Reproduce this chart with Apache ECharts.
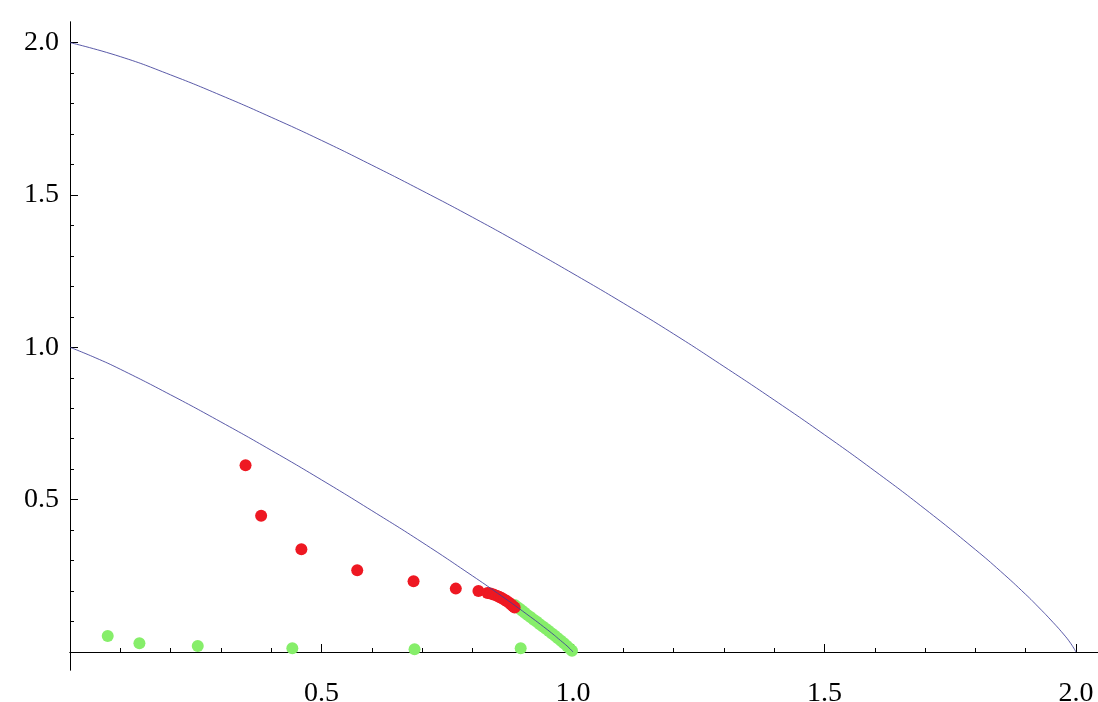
<!DOCTYPE html>
<html><head><meta charset="utf-8">
<script src="https://cdn.jsdelivr.net/npm/echarts@6/dist/echarts.min.js"></script>
<style>html,body{margin:0;padding:0;background:#fff}#c{width:1098px;height:702px}</style>
</head><body><div id="c"></div>
<script>
// Inner frontier curve
const innerX = [0, 0.05, 0.1, 0.2, 0.3, 0.4, 0.5, 0.6, 0.7, 0.8, 0.85, 0.9, 0.95, 0.975, 0.99, 1.0];
const innerY = [1.0, 0.966, 0.928, 0.844, 0.755, 0.662, 0.565, 0.464, 0.360, 0.250, 0.193, 0.134, 0.072, 0.038, 0.017, 0.0];
// Outer frontier curve
const outerX = [0, 0.1, 0.2, 0.3, 0.4, 0.5, 0.6, 0.7, 0.8, 0.9, 1.0, 1.1, 1.2, 1.3, 1.4, 1.5, 1.6, 1.7, 1.8, 1.85, 1.9, 1.925, 1.95, 1.975, 1.99, 2.0];
const outerY = [2.0, 1.954, 1.894, 1.827, 1.755, 1.679, 1.598, 1.514, 1.427, 1.336, 1.242, 1.145, 1.044, 0.937, 0.827, 0.713, 0.594, 0.469, 0.336, 0.265, 0.189, 0.148, 0.105, 0.059, 0.027, 0.0];
// Red points
const redX = [0.349, 0.380, 0.460, 0.571, 0.683, 0.767, 0.812, 0.830, 0.836, 0.842, 0.848, 0.853, 0.858, 0.863, 0.868, 0.873, 0.877, 0.881, 0.884];
const redY = [0.613, 0.447, 0.337, 0.268, 0.232, 0.208, 0.200, 0.194, 0.192, 0.189, 0.185, 0.181, 0.177, 0.172, 0.167, 0.162, 0.156, 0.150, 0.146];
// Green points
const greenX = [0.075, 0.138, 0.254, 0.442, 0.685, 0.896,
  0.884, 0.889, 0.894, 0.899, 0.904, 0.910, 0.916, 0.922, 0.928, 0.934, 0.940, 0.946, 0.952, 0.958, 0.964, 0.970, 0.976, 0.982, 0.988, 0.994, 0.998];
const greenY = [0.0525, 0.0285, 0.0197, 0.012, 0.009, 0.012,
  0.154, 0.148, 0.142, 0.135, 0.129, 0.121, 0.114, 0.106, 0.099, 0.091, 0.084, 0.076, 0.069, 0.061, 0.053, 0.045, 0.037, 0.029, 0.020, 0.011, 0.004];
// Ticks
const xMajorTicks = [0.5, 1.0, 1.5, 2.0];
const xMinorTicks = [0.1, 0.2, 0.3, 0.4, 0.6, 0.7, 0.8, 0.9, 1.1, 1.2, 1.3, 1.4, 1.6, 1.7, 1.8, 1.9];
const yMajorTicks = [0.5, 1.0, 1.5, 2.0];
const yMinorTicks = [0.1, 0.2, 0.3, 0.4, 0.6, 0.7, 0.8, 0.9, 1.1, 1.2, 1.3, 1.4, 1.6, 1.7, 1.8, 1.9];

const pairs = (xs, ys) => xs.map((x, i) => [x, ys[i]]);
const X_MIN = 0, X_MAX = 1028 / 503;
const PXY = 304.7;
const Y_MIN = -18 / PXY, Y_MAX = 630 / PXY;
const font = { fontSize: 28, fontFamily: 'Liberation Serif', color: '#000' };

const mkX = (major) => ({
  type: 'value', min: X_MIN, max: X_MAX, position: 'bottom',
  axisLine: { show: true, onZero: true, lineStyle: { color: '#000', width: 1 } },
  axisTick: { show: true, inside: true, length: major ? 8 : 4, customValues: major ? xMajorTicks : xMinorTicks, lineStyle: { color: '#000', width: 1 } },
  axisLabel: major ? Object.assign({ show: true, customValues: xMajorTicks, margin: 10, formatter: v => v.toFixed(1) }, font) : { show: false },
  splitLine: { show: false }
});
const mkY = (major) => ({
  type: 'value', min: Y_MIN, max: Y_MAX, position: 'left',
  axisLine: { show: true, onZero: false, lineStyle: { color: '#000', width: 1 } },
  axisTick: { show: true, inside: true, length: major ? 8 : 4, customValues: major ? yMajorTicks : yMinorTicks, lineStyle: { color: '#000', width: 1 } },
  axisLabel: major ? Object.assign({ show: true, customValues: yMajorTicks, margin: 11, formatter: v => v.toFixed(1) }, font) : { show: false },
  splitLine: { show: false }
});

const chart = echarts.init(document.getElementById('c'), null, { renderer: 'canvas' });
chart.setOption({
  animation: false,
  backgroundColor: '#fff',
  grid: { left: 70, right: 0, top: 22, bottom: 32, containLabel: false, outerBoundsMode: 'none' },
  xAxis: [mkX(true), mkX(false)],
  yAxis: [mkY(true), mkY(false)],
  series: [
    { type: 'scatter', data: pairs(greenX, greenY), symbol: 'circle', symbolSize: 12, itemStyle: { color: '#86ee6a', opacity: 1 }, z: 1 },
    { type: 'scatter', data: pairs(redX, redY), symbol: 'circle', symbolSize: 12, itemStyle: { color: '#ee1822', opacity: 1 }, z: 2 },
    { type: 'line', data: pairs(innerX, innerY), showSymbol: false, smooth: 0.5, lineStyle: { color: '#3d3d99', width: 1, opacity: 0.85 }, z: 3 },
    { type: 'line', data: pairs(outerX, outerY), showSymbol: false, smooth: 0.5, lineStyle: { color: '#3d3d99', width: 1, opacity: 0.85 }, z: 3 }
  ]
});
</script></body></html>
